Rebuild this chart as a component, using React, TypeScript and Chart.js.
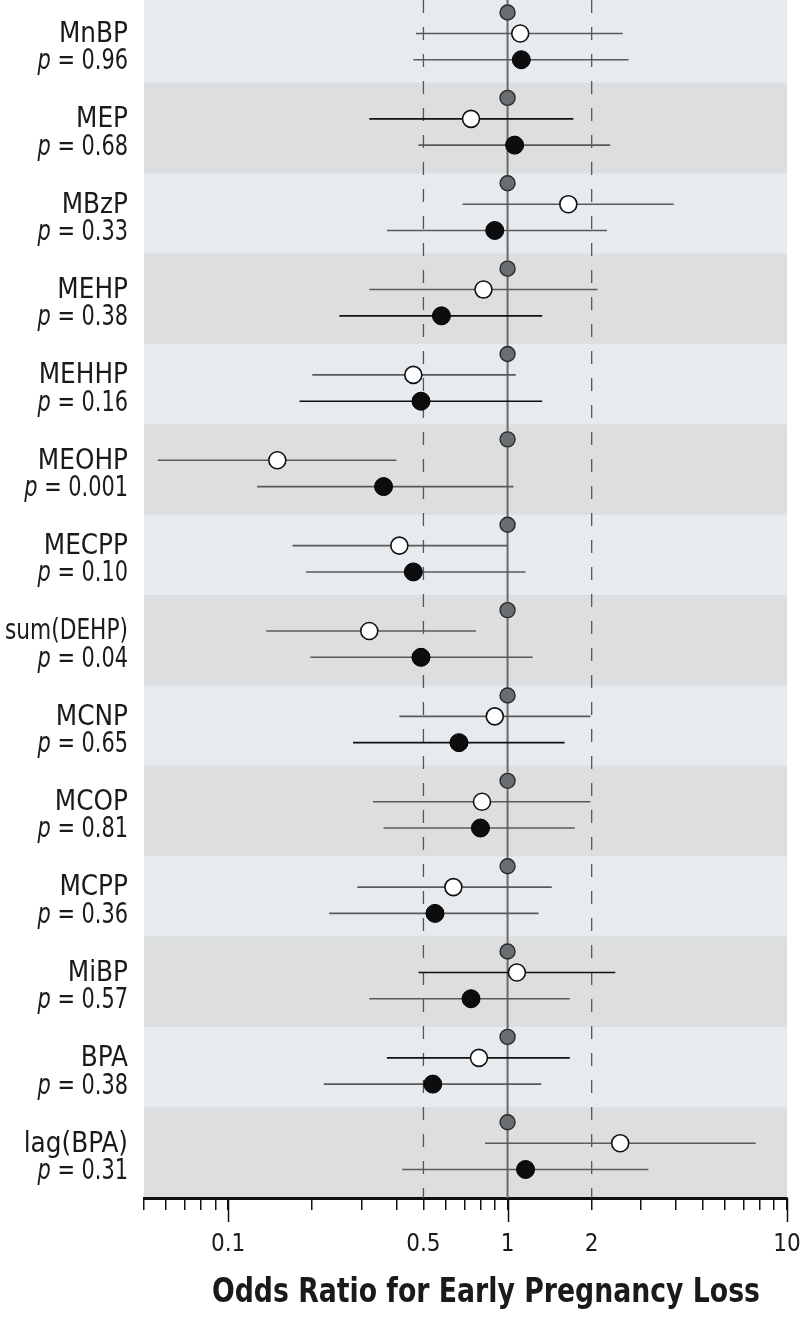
import React, { useEffect, useRef } from "react";
import { Chart, registerables } from "chart.js";

Chart.register(...registerables);

const COMPOUNDS = ["MnBP", "MEP", "MBzP", "MEHP", "MEHHP", "MEOHP", "MECPP", "sum(DEHP)", "MCNP", "MCOP", "MCPP", "MiBP", "BPA", "lag(BPA)"];
const P_VALUES = ["0.96", "0.68", "0.33", "0.38", "0.16", "0.001", "0.10", "0.04", "0.65", "0.81", "0.36", "0.57", "0.38", "0.31"];
const REF_OR = [1, 1, 1, 1, 1, 1, 1, 1, 1, 1, 1, 1, 1, 1];
const MID_OR = [1.11, 0.74, 1.65, 0.82, 0.46, 0.15, 0.41, 0.32, 0.9, 0.81, 0.64, 1.08, 0.79, 2.53];
const MID_LO = [0.47, 0.32, 0.69, 0.32, 0.2, 0.056, 0.17, 0.137, 0.41, 0.33, 0.29, 0.48, 0.37, 0.83];
const MID_HI = [2.58, 1.72, 3.93, 2.1, 1.07, 0.4, 1.0, 0.77, 1.98, 1.98, 1.44, 2.43, 1.67, 7.73];
const HIGH_OR = [1.12, 1.06, 0.9, 0.58, 0.49, 0.36, 0.46, 0.49, 0.67, 0.8, 0.55, 0.74, 0.54, 1.16];
const HIGH_LO = [0.46, 0.48, 0.37, 0.25, 0.18, 0.127, 0.19, 0.197, 0.28, 0.36, 0.23, 0.32, 0.22, 0.42];
const HIGH_HI = [2.71, 2.33, 2.27, 1.33, 1.33, 1.05, 1.16, 1.23, 1.6, 1.74, 1.29, 1.67, 1.32, 3.19];
const X_TICKS = [0.05, 0.06, 0.07, 0.08, 0.09, 0.1, 0.2, 0.3, 0.4, 0.5, 0.6, 0.7, 0.8, 0.9, 1, 2, 3, 4, 5, 6, 7, 8, 9, 10];
const X_LABELS = [0.1, 0.5, 1, 2, 10];
const X_MAJOR = [0.1, 1, 10];
const GUIDE_DASHED = [0.5, 2];
const X_TITLE = "Odds Ratio for Early Pregnancy Loss";

// styling (not data)
const MID_LINE_COLORS = ["#5a5a5a", "#111", "#5a5a5a", "#5a5a5a", "#5a5a5a", "#5a5a5a", "#5a5a5a", "#5a5a5a", "#5a5a5a", "#5a5a5a", "#5a5a5a", "#111", "#111", "#5a5a5a"];
const HIGH_LINE_COLORS = ["#5a5a5a", "#5a5a5a", "#5a5a5a", "#111", "#111", "#5a5a5a", "#5a5a5a", "#5a5a5a", "#111", "#5a5a5a", "#5a5a5a", "#5a5a5a", "#5a5a5a", "#5a5a5a"];

const FONT = "'Liberation Sans Narrow', 'DejaVu Sans Condensed', 'Roboto', sans-serif";
const Y_MAX = 14.034;
const OFF_REF = 0.147;
const OFF_MID = 0.392;
const OFF_HIGH = 0.7;

function drawCondensed(ctx: any, text: string, x: number, y: number, sx: number, maxW?: number) {
  ctx.save();
  ctx.translate(x, y);
  let s = sx;
  if (maxW) {
    const w = ctx.measureText(text).width * sx;
    if (w > maxW) s = (sx * maxW) / w;
  }
  ctx.scale(s, 1);
  ctx.fillText(text, 0, 0);
  ctx.restore();
}

const bgPlugin = {
  id: "bands",
  beforeDraw(chart: any) {
    const { ctx, chartArea, scales } = chart;
    const y = scales.y;
    ctx.save();
    ctx.fillStyle = "#e5ebee";
    ctx.fillRect(chartArea.left, chartArea.top, chartArea.right - chartArea.left, chartArea.bottom - chartArea.top);
    ctx.fillStyle = "#dcdedf";
    for (let i = 1; i < COMPOUNDS.length; i += 2) {
      const t = y.getPixelForValue(Math.max(0, i - 0.03));
      const b = y.getPixelForValue(Math.min(Y_MAX, i + 1.03));
      ctx.fillRect(chartArea.left, t, chartArea.right - chartArea.left, b - t);
    }
    ctx.restore();
  },
  afterDraw(chart: any) {
    const { ctx, chartArea, scales } = chart;
    const y = scales.y;
    const x = scales.x;
    ctx.save();
    ctx.strokeStyle = "#111";
    ctx.lineWidth = 1.5;
    X_MAJOR.forEach((v) => {
      const px = Math.round(x.getPixelForValue(v)) + 0.5;
      ctx.beginPath();
      ctx.moveTo(px, chartArea.bottom);
      ctx.lineTo(px, chartArea.bottom + 24);
      ctx.stroke();
    });
    const rightX = 128;
    ctx.fillStyle = "#1a1a1a";
    ctx.textBaseline = "alphabetic";
    ctx.textAlign = "right";
    COMPOUNDS.forEach((name, i) => {
      ctx.font = `29px ${FONT}`;
      drawCondensed(ctx, name, rightX, y.getPixelForValue(i + 0.49), 0.95, 123);
      const rest = " = " + P_VALUES[i];
      const py = y.getPixelForValue(i + 0.81);
      const sx = 0.8;
      drawCondensed(ctx, rest, rightX, py, sx);
      const w = ctx.measureText(rest).width * sx;
      ctx.font = `italic 29px ${FONT}`;
      drawCondensed(ctx, "p", rightX - w, py, sx);
    });
    ctx.font = `bold 34px ${FONT}`;
    ctx.textAlign = "center";
    ctx.textBaseline = "middle";
    ctx.fillStyle = "#1a1a1a";
    const tw = ctx.measureText(X_TITLE).width;
    drawCondensed(ctx, X_TITLE, 486, 1293, 548 / tw);
    ctx.restore();
  },
};

export default function App() {
  const ref = useRef<HTMLCanvasElement | null>(null);
  useEffect(() => {
    if (!ref.current) return;
    const datasets: any[] = [];
    datasets.push({
      type: "line",
      data: [{ x: 1, y: 0 }, { x: 1, y: Y_MAX }],
      borderColor: "#6a6a6a",
      borderWidth: 2,
      pointRadius: 0,
      order: 5,
    });
    GUIDE_DASHED.forEach((g) => {
      datasets.push({
        type: "line",
        data: [{ x: g, y: 0 }, { x: g, y: Y_MAX }],
        borderColor: "#555",
        borderWidth: 1.3,
        borderDash: [13, 14],
        pointRadius: 0,
        order: 5,
      });
    });
    COMPOUNDS.forEach((_, i) => {
      datasets.push({
        type: "line",
        data: [{ x: MID_LO[i], y: i + OFF_MID }, { x: MID_HI[i], y: i + OFF_MID }],
        borderColor: MID_LINE_COLORS[i],
        borderWidth: 1.6,
        pointRadius: 0,
        order: 3,
      });
      datasets.push({
        type: "line",
        data: [{ x: HIGH_LO[i], y: i + OFF_HIGH }, { x: HIGH_HI[i], y: i + OFF_HIGH }],
        borderColor: HIGH_LINE_COLORS[i],
        borderWidth: 1.6,
        pointRadius: 0,
        order: 3,
      });
    });
    datasets.push({
      type: "scatter",
      data: REF_OR.map((v, i) => ({ x: v, y: i + OFF_REF })),
      backgroundColor: "#6b6e70",
      borderColor: "#2a2a2a",
      borderWidth: 1.4,
      pointRadius: 7.5,
      order: 1,
    });
    datasets.push({
      type: "scatter",
      data: MID_OR.map((v, i) => ({ x: v, y: i + OFF_MID })),
      backgroundColor: "#ffffff",
      borderColor: "#111",
      borderWidth: 1.6,
      pointRadius: 8.5,
      order: 1,
    });
    datasets.push({
      type: "scatter",
      data: HIGH_OR.map((v, i) => ({ x: v, y: i + OFF_HIGH })),
      backgroundColor: "#0d0d0d",
      borderColor: "#000",
      borderWidth: 1,
      pointRadius: 9,
      order: 1,
    });

    const chart = new Chart(ref.current, {
      type: "scatter",
      data: { datasets },
      options: {
        animation: false,
        responsive: false,
        devicePixelRatio: 1,
        layout: { autoPadding: false, padding: { left: 144, right: 13, top: 0, bottom: 0 } },
        plugins: { legend: { display: false }, tooltip: { enabled: false }, title: { display: false } },
        scales: {
          x: {
            type: "logarithmic",
            min: 0.05,
            max: 10,
            afterBuildTicks: (s: any) => {
              s.ticks = X_TICKS.map((v) => ({ value: v, major: X_MAJOR.includes(v) }));
            },
            afterFit: (s: any) => {
              s.height = 120;
              s.paddingLeft = 0;
              s.paddingRight = 0;
            },
            ticks: {
              autoSkip: false,
              maxRotation: 0,
              minRotation: 0,
              padding: 20,
              color: "#1a1a1a",
              font: { family: FONT, size: 24 },
              callback: (v: any) => (X_LABELS.includes(Number(v)) ? String(v) : ""),
            },
            grid: { drawOnChartArea: false, drawTicks: true, tickLength: 12, color: "#111", lineWidth: 1.5 },
            border: { display: true, color: "#111", width: 3 },
          },
          y: {
            type: "linear",
            display: false,
            reverse: true,
            min: 0,
            max: Y_MAX,
          },
        },
      } as any,
      plugins: [bgPlugin],
    });
    return () => chart.destroy();
  }, []);
  return (
    <div style={{ position: "absolute", left: 0, top: 0, width: 800, height: 1318, background: "#fff" }}>
      <canvas ref={ref} width={800} height={1318} style={{ display: "block" }} />
    </div>
  );
}
